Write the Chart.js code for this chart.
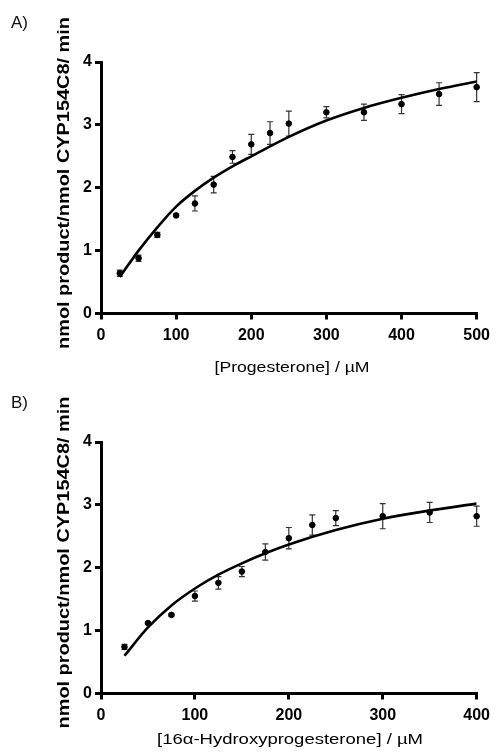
<!DOCTYPE html>
<html>
<head>
<meta charset="utf-8">
<script src="https://cdn.jsdelivr.net/npm/chart.js@4.4.1/dist/chart.umd.min.js"></script>
<style>
  body { margin: 0; background: #fff; }
  #wrap { position: relative; width: 496px; height: 753px; font-family: "Liberation Sans", Arial, sans-serif; }
  .panel { position: absolute; left: 0; width: 496px; }
  .tag { position: absolute; left: 11px; font-size: 17px; color: #111; }
</style>
</head>
<body>
<div id="wrap">
  <div class="panel" style="top:0;height:380px"><canvas id="chartA" width="496" height="380"></canvas></div>
  <div class="panel" style="top:380px;height:373px"><canvas id="chartB" width="496" height="373"></canvas></div>
  <div class="tag" style="top:13px">A)</div>
  <div class="tag" style="top:393px">B)</div>
</div>
<script>
// Panel A: progesterone
const progConc = [25, 50, 75, 100, 125, 150, 175, 200, 225, 250, 300, 350, 400, 450, 500];
const progRate = [0.64, 0.88, 1.25, 1.56, 1.75, 2.05, 2.49, 2.69, 2.87, 3.02, 3.2, 3.2, 3.33, 3.49, 3.6];
const progErr = [0.05, 0.05, 0.04, 0.02, 0.12, 0.13, 0.1, 0.16, 0.18, 0.2, 0.09, 0.13, 0.15, 0.18, 0.23];
const progFitX = [25, 50, 75, 100, 125, 150, 175, 200, 250, 300, 350, 400, 450, 500];
const progFitY = [0.58, 1.0, 1.37, 1.7, 1.95, 2.16, 2.34, 2.5, 2.81, 3.07, 3.27, 3.43, 3.57, 3.69];

// Panel B: 16a-hydroxyprogesterone
const hydConc = [25, 50, 75, 100, 125, 150, 175, 200, 225, 250, 300, 350, 400];
const hydRate = [0.74, 1.12, 1.25, 1.55, 1.76, 1.94, 2.25, 2.47, 2.68, 2.79, 2.82, 2.88, 2.82];
const hydErr = [0.04, 0.02, 0.02, 0.08, 0.1, 0.08, 0.13, 0.17, 0.16, 0.12, 0.2, 0.16, 0.16];
const hydFitX = [25, 50, 75, 100, 125, 150, 175, 200, 250, 300, 350, 400];
const hydFitY = [0.6, 1.05, 1.4, 1.67, 1.89, 2.07, 2.23, 2.37, 2.6, 2.78, 2.91, 3.02];

const yTicks = [0, 1, 2, 3, 4];
const yTitle = 'nmol product/nmol CYP154C8/ min';

// error bars drawn under the points
const errorBars = {
  id: 'errorBars',
  beforeDatasetsDraw(chart) {
    const ds = chart.data.datasets[0];
    const { ctx, scales: { x, y } } = chart;
    ctx.save();
    ctx.strokeStyle = '#333';
    ctx.lineWidth = 1.2;
    ds.data.forEach((p, i) => {
      const px = x.getPixelForValue(p.x);
      const top = y.getPixelForValue(p.y + ds.err[i]);
      const bot = y.getPixelForValue(p.y - ds.err[i]);
      ctx.beginPath();
      ctx.moveTo(px, top); ctx.lineTo(px, bot);
      ctx.moveTo(px - 3, top); ctx.lineTo(px + 3, top);
      ctx.moveTo(px - 3, bot); ctx.lineTo(px + 3, bot);
      ctx.stroke();
    });
    ctx.restore();
  }
};

// axis titles, stretched a little to the widths in the original figure
function drawText(ctx, text, font, cx, cy, width, rot) {
  ctx.save();
  ctx.font = font;
  ctx.fillStyle = '#000';
  ctx.textAlign = 'center';
  ctx.textBaseline = 'middle';
  ctx.translate(cx, cy);
  if (rot) ctx.rotate(-Math.PI / 2);
  ctx.scale(width / ctx.measureText(text).width, 1);
  ctx.fillText(text, 0, 0);
  ctx.restore();
}

const axisTitles = {
  id: 'axisTitles',
  afterDraw(chart, args, o) {
    const ctx = chart.ctx;
    drawText(ctx, yTitle, 'bold 17px "Liberation Sans"', 64, o.yCenter, 332, true);
    drawText(ctx, o.xText, '15px "Liberation Sans"', o.xCenter, o.xY, o.xWidth, false);
  }
};

function makeChart(id, conc, rate, err, fitX, fitY, xMax, titleOpts, height) {
  const axisGrid = { display: true, drawOnChartArea: false, drawTicks: true, tickLength: 6, lineWidth: 3, color: '#000' };
  const tickFont = { family: 'Liberation Sans', size: 16, weight: 'bold' };
  return new Chart(document.getElementById(id), {
    data: {
      datasets: [
        {
          type: 'scatter',
          data: conc.map((c, i) => ({ x: c, y: rate[i] })),
          err: err,
          backgroundColor: '#000',
          borderColor: '#000',
          pointRadius: 2.8,
          clip: false,
          order: 0
        },
        {
          type: 'line',
          data: fitX.map((c, i) => ({ x: c, y: fitY[i] })),
          borderColor: '#000',
          borderWidth: 2.6,
          pointRadius: 0,
          cubicInterpolationMode: 'monotone',
          fill: false,
          order: 1
        }
      ]
    },
    options: {
      responsive: false,
      animation: false,
      layout: { padding: { top: 62, right: 17, left: 0, bottom: 0 } },
      plugins: { legend: { display: false }, tooltip: { enabled: false }, axisTitles: titleOpts },
      scales: {
        x: {
          type: 'linear', min: 0, max: xMax,
          grid: axisGrid,
          border: { display: true, color: '#000', width: 3 },
          ticks: { stepSize: 100, color: '#000', padding: 6, maxRotation: 0, font: tickFont },
          afterFit: s => { s.height = height - 62 - 251.5; }
        },
        y: {
          type: 'linear', min: 0, max: 4,
          afterBuildTicks: s => { s.ticks = yTicks.map(v => ({ value: v })); },
          grid: axisGrid,
          border: { display: true, color: '#000', width: 3 },
          ticks: { color: '#000', padding: 3, font: tickFont },
          afterFit: s => { s.width = 101; }
        }
      }
    },
    plugins: [errorBars, axisTitles]
  });
}

makeChart('chartA', progConc, progRate, progErr, progFitX, progFitY, 500,
  { xText: '[Progesterone] / µM', xCenter: 292, xY: 368, xWidth: 155, yCenter: 183 }, 380);
makeChart('chartB', hydConc, hydRate, hydErr, hydFitX, hydFitY, 400,
  { xText: '[16α-Hydroxyprogesterone] / µM', xCenter: 290, xY: 360, xWidth: 266, yCenter: 182.5 }, 373);
</script>
</body>
</html>
